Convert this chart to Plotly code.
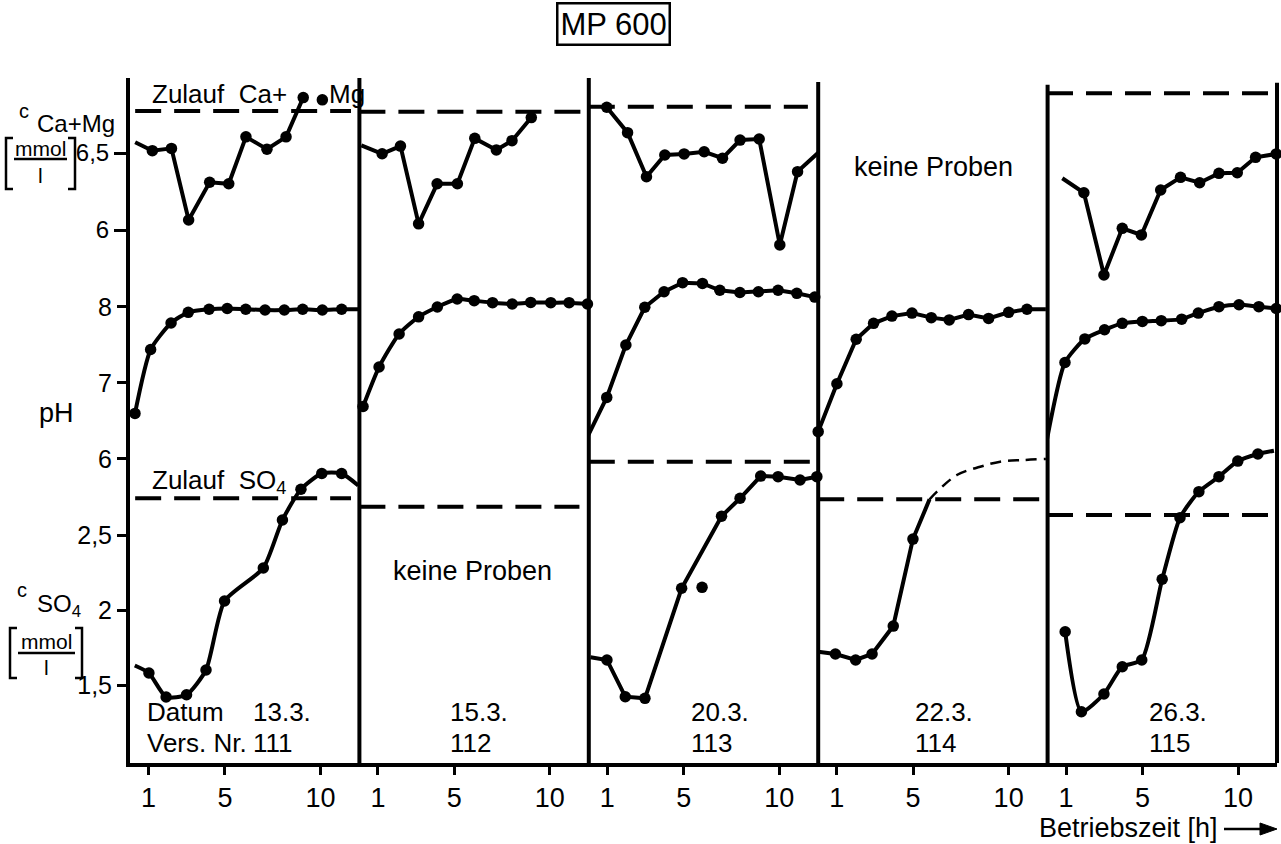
import plotly.graph_objects as go

# ---------------- data ----------------
dates = ["13.3.", "15.3.", "20.3.", "22.3.", "26.3."]
vers_nr = ["111", "112", "113", "114", "115"]
x_ticks = [1, 5, 10]

# Zulauf (feed) concentrations per run
zulauf_ca = [6.773, 6.768, 6.80, None, 6.888]
zulauf_so4 = [2.745, 2.689, 2.989, 2.738, 2.633]

# Run 111 (13.3.)
ca1_t = [0.3, 1.2, 2.2, 3.1, 4.2, 5.2, 6.1, 7.2, 8.2, 9.1]
ca1_v = [6.57, 6.515, 6.53, 6.065, 6.31, 6.30, 6.605, 6.525, 6.605, 6.86]
ca1_extra_t = [10.1]
ca1_extra_v = [6.845]
ph1_t = [0.29, 1.11, 2.18, 3.08, 4.17, 5.12, 6.09, 7.10, 8.11, 9.07, 10.1, 11.11, 11.98]
ph1_v = [6.60, 7.44, 7.79, 7.93, 7.97, 7.98, 7.97, 7.96, 7.96, 7.97, 7.96, 7.97, 7.97]
so1_t = [0.28, 1.02, 1.92, 2.99, 4.01, 4.98, 7.01, 8.01, 8.98, 10.07, 11.11, 11.98]
so1_v = [1.63, 1.58, 1.42, 1.435, 1.60, 2.06, 2.28, 2.60, 2.805, 2.91, 2.91, 2.83]

# Run 112 (15.3.)
ca2_t = [0.13, 1.22, 2.18, 3.13, 4.1, 5.16, 6.07, 7.2, 8.02, 9.03]
ca2_v = [6.55, 6.495, 6.545, 6.04, 6.30, 6.30, 6.595, 6.52, 6.58, 6.73]
ph2_t = [0.22, 1.06, 2.11, 3.13, 4.11, 5.15, 6.04, 7.0, 8.03, 9.0, 10.05, 11.01, 11.97]
ph2_v = [6.69, 7.21, 7.645, 7.87, 8.0, 8.105, 8.083, 8.057, 8.04, 8.06, 8.057, 8.057, 8.04]

# Run 113 (20.3.)
ca3_t = [0.97, 2.06, 3.05, 4.01, 5.02, 6.07, 7.03, 7.95, 8.95, 10.03, 10.96, 12.04]
ca3_v = [6.797, 6.632, 6.346, 6.487, 6.494, 6.508, 6.466, 6.584, 6.591, 5.903, 6.379, 6.502]
ph3_t = [0.01, 0.97, 1.97, 2.96, 3.97, 4.94, 5.98, 6.89, 7.94, 8.91, 9.94, 10.92, 11.86]
ph3_v = [6.316, 6.81, 7.5, 7.996, 8.20, 8.32, 8.31, 8.22, 8.19, 8.20, 8.22, 8.18, 8.13]
so3_t = [0.12, 0.98, 1.94, 2.97, 4.89, 6.98, 7.95, 9.03, 9.94, 11.09, 11.97]
so3_v = [1.685, 1.667, 1.422, 1.411, 2.145, 2.625, 2.745, 2.893, 2.889, 2.867, 2.889]
so3_extra_t = [5.96]
so3_extra_v = [2.151]

# Run 114 (22.3.)
ph4_t = [0.03, 1.01, 2.02, 2.93, 3.89, 4.94, 5.95, 6.89, 7.90, 8.95, 10.0, 10.96, 11.95]
ph4_v = [6.36, 6.99, 7.575, 7.785, 7.88, 7.92, 7.86, 7.83, 7.90, 7.85, 7.93, 7.97, 7.97]
so4_t = [0.03, 0.93, 1.99, 2.85, 3.96, 4.99, 5.86]
so4_v = [1.722, 1.707, 1.667, 1.707, 1.893, 2.473, 2.738]
so4_ext_t = [5.86, 6.25, 7.29, 8.51, 9.56, 10.76, 11.95]
so4_ext_v = [2.738, 2.789, 2.90, 2.955, 2.989, 3.0, 3.007]

# Run 115 (26.3.)
ca5_t = [0.8, 1.93, 2.98, 3.94, 4.94, 5.95, 6.99, 7.99, 9.0, 9.96, 10.92, 12.0]
ca5_v = [6.336, 6.242, 5.708, 6.011, 5.968, 6.26, 6.342, 6.307, 6.368, 6.372, 6.472, 6.494]
ph5_t = [0.0, 0.94, 1.98, 3.01, 3.94, 4.99, 5.98, 7.05, 7.92, 9.0, 10.05, 11.09, 12.0]
ph5_v = [6.26, 7.27, 7.58, 7.70, 7.785, 7.81, 7.82, 7.84, 7.92, 8.004, 8.03, 8.004, 7.98]
so5_t = [0.95, 1.8, 2.98, 3.94, 4.96, 6.03, 6.96, 7.95, 9.0, 9.99, 11.04, 11.88]
so5_v = [1.855, 1.322, 1.44, 1.622, 1.667, 2.205, 2.615, 2.789, 2.889, 2.993, 3.04, 3.062]

# ---------------- layout constants ----------------
W, H = 1281, 844
ML, MR, MT, MB = 130, 4, 78, 81
PW, PH = W - ML - MR, H - MT - MB
XR = [0.03, 12.04]
CA_R = [2.539, 6.987]
PH_R = [2.0, 11.013]
SO_R = [0.98, 5.547]
FONT = "Liberation Sans"
BLK = "black"
FS = 27
LW = 4


def X(px):
    return (px - ML) / PW


def Y(py):
    return (H - MB - py) / PH


def xa(i):
    return "x" if i == 1 else f"x{i}"


YCA, YPH, YSO = "y", "y2", "y3"

fig = go.Figure()


def curve(i, y, t, v, a=0, b=None, shape="linear", lw=LW, dots=True):
    fig.add_trace(go.Scatter(x=t, y=v, xaxis=xa(i), yaxis=y, mode="lines",
                             line=dict(color=BLK, width=lw, shape=shape, smoothing=0.6),
                             cliponaxis=False, hoverinfo="skip", showlegend=False))
    if dots:
        fig.add_trace(go.Scatter(x=t[a:b], y=v[a:b], xaxis=xa(i), yaxis=y, mode="markers",
                                 marker=dict(color=BLK, size=11.5), cliponaxis=False,
                                 hoverinfo="skip", showlegend=False))


def dots(i, y, t, v):
    fig.add_trace(go.Scatter(x=t, y=v, xaxis=xa(i), yaxis=y, mode="markers",
                             marker=dict(color=BLK, size=11.5), cliponaxis=False,
                             hoverinfo="skip", showlegend=False))


def zulauf(i, y, val, t0, t1):
    if val is None:
        return
    fig.add_trace(go.Scatter(x=[t0, t1], y=[val, val], xaxis=xa(i), yaxis=y, mode="lines",
                             line=dict(color=BLK, width=LW, dash="26px,13px"),
                             cliponaxis=False, hoverinfo="skip", showlegend=False))


# feed lines
ca_ext = [(0.3, 11.6), (0.03, 11.65), (0.03, 11.5), None, (0.0, 12.04)]
so_ext = [(0.3, 11.6), (0.03, 11.55), (0.03, 12.3), (0.03, 12.0), (0.0, 11.7)]
for i in range(5):
    if ca_ext[i]:
        zulauf(i + 1, YCA, zulauf_ca[i], *ca_ext[i])
    zulauf(i + 1, YSO, zulauf_so4[i], *so_ext[i])

# run 111
curve(1, YCA, ca1_t, ca1_v, a=1)
dots(1, YCA, ca1_extra_t, ca1_extra_v)
curve(1, YPH, ph1_t, ph1_v, a=0, b=-1, shape="spline")
curve(1, YSO, so1_t, so1_v, a=1, b=-1, shape="spline")
# run 112
curve(2, YCA, ca2_t, ca2_v, a=1)
curve(2, YPH, ph2_t, ph2_v, shape="spline")
# run 113
curve(3, YCA, ca3_t, ca3_v, a=0, b=-1)
curve(3, YPH, ph3_t, ph3_v)
curve(3, YSO, so3_t, so3_v, a=1)
dots(3, YSO, so3_extra_t, so3_extra_v)
# run 114
curve(4, YPH, ph4_t, ph4_v, a=0, b=-1)
curve(4, YSO, so4_t, so4_v, a=1, b=-1)
fig.add_trace(go.Scatter(x=so4_ext_t, y=so4_ext_v, xaxis="x4", yaxis=YSO, mode="lines",
                         line=dict(color=BLK, width=2.5, dash="11px,7px", shape="spline"),
                         cliponaxis=False, hoverinfo="skip", showlegend=False))
# run 115
curve(5, YCA, ca5_t, ca5_v, a=1)
curve(5, YPH, ph5_t, ph5_v, shape="spline")
curve(5, YSO, so5_t, so5_v, a=0, b=-1, shape="spline")

# ---------------- axes ----------------
tickfont = dict(size=FS, family=FONT, color=BLK)
ytickfont = dict(size=25, family=FONT, color=BLK)
lay = {}
for i in range(1, 6):
    key = "xaxis" if i == 1 else f"xaxis{i}"
    lay[key] = dict(domain=[(i - 1) / 5, i / 5], range=XR, anchor="y",
                    tickmode="array", tickvals=x_ticks, ticks="outside", ticklen=8,
                    tickwidth=2.5, tickcolor=BLK, showline=True, linewidth=LW,
                    linecolor=BLK, showgrid=False, zeroline=False, tickfont=tickfont,
                    automargin=False, fixedrange=True)
ycommon = dict(domain=[0, 1], anchor="x", ticks="outside", ticklen=12, tickwidth=2.5,
               tickcolor=BLK, showgrid=False, zeroline=False, tickfont=ytickfont,
               automargin=False, fixedrange=True, tickmode="array")
lay["yaxis"] = dict(ycommon, range=CA_R, tickvals=[6, 6.5], ticktext=["6", "6,5"],
                    showline=True, linewidth=LW, linecolor=BLK,
                    tickfont=dict(size=24, family=FONT, color=BLK))
lay["yaxis2"] = dict(ycommon, range=PH_R, tickvals=[6, 7, 8], ticktext=["6", "7", "8"],
                     showline=False)
lay["yaxis3"] = dict(ycommon, range=SO_R, tickvals=[1.5, 2, 2.5],
                     ticktext=["1,5", "2", "2,5"], showline=False)
fig.update_layout(**lay)

# ---------------- panel dividers ----------------
shapes = []
tops = [1.0, 1.0, 0.994, 0.99]
for k, i in enumerate(range(2, 6)):
    shapes.append(dict(type="line", xref=f"x{i} domain", yref="paper", x0=0, x1=0,
                       y0=0, y1=tops[k], line=dict(color=BLK, width=LW)))
shapes.append(dict(type="line", xref="x5 domain", yref="paper", x0=1, x1=1,
                   y0=0, y1=0.993, line=dict(color=BLK, width=LW)))


def bracket(xl, xr, yt, yb, w=7):
    for xo, d in ((xl, 1), (xr, -1)):
        shapes.append(dict(type="path", xref="paper", yref="paper",
                           path=f"M {X(xo + d * w)},{Y(yt)} L {X(xo)},{Y(yt)} "
                                f"L {X(xo)},{Y(yb)} L {X(xo + d * w)},{Y(yb)}",
                           line=dict(color=BLK, width=2.5)))


def hline(x0, x1, y, w=2.5):
    shapes.append(dict(type="line", xref="paper", yref="paper", x0=X(x0), x1=X(x1),
                       y0=Y(y), y1=Y(y), line=dict(color=BLK, width=w)))


bracket(6, 75, 138, 189)
hline(14, 67, 159)
bracket(10, 82, 628, 678)
hline(18, 75, 653)
# arrow of time axis label
hline(1224, 1266, 829, 2.5)
shapes.append(dict(type="path", xref="paper", yref="paper",
                   path=f"M {X(1260)},{Y(823)} L {X(1277)},{Y(829)} L {X(1260)},{Y(835)} Z",
                   fillcolor=BLK, line=dict(color=BLK, width=1)))
fig.update_layout(shapes=shapes)

# ---------------- texts ----------------
ann = []


def txt(text, x, y, xref="paper", yref="paper", size=FS, xanchor="center", **kw):
    ann.append(dict(text=text, x=x, y=y, xref=xref, yref=yref, showarrow=False,
                    xanchor=xanchor, yanchor="middle",
                    font=dict(size=size, family=FONT, color=BLK), **kw))


txt("MP 600", X(613), Y(24), size=31, bordercolor=BLK, borderwidth=2.5, borderpad=2)
txt("c", X(24), Y(111), size=20)
txt("Ca+Mg", X(35), Y(123), size=24, xanchor="left")
txt("mmol", X(40), Y(148), size=21)
txt("l", X(40), Y(176), size=21)
txt("pH", X(56), Y(413), size=27)
txt("c", X(22), Y(590), size=20)
txt("SO<sub>4</sub>", X(35), Y(605), size=24, xanchor="left")
txt("mmol", X(46), Y(641), size=21)
txt("l", X(46), Y(667), size=21)

txt("Zulauf  Ca+", 1.1, 6.883, "x", "y", size=26, xanchor="left")
txt("Mg", 10.35, 6.883, "x", "y", size=26, xanchor="left")
txt("Zulauf  SO<sub>4</sub>", 1.1, 2.86, "x", "y3", size=26, xanchor="left")
txt("keine Proben", 5.95, 2.26, "x2", "y3", size=27)
txt("keine Proben", 6.05, 6.41, "x4", "y", size=27)
txt("Datum", 0.82, 1.32, "x", "y3", size=26, xanchor="left")
txt("Vers. Nr.", 0.82, 1.113, "x", "y3", size=26, xanchor="left")
date_x = [6.36, 4.69, 5.27, 5.0, 5.21]
for i in range(5):
    txt(dates[i], date_x[i], 1.32, xa(i + 1), "y3", size=26, xanchor="left")
    txt(vers_nr[i], date_x[i], 1.113, xa(i + 1), "y3", size=26, xanchor="left")
txt("Betriebszeit [h]", X(1220), Y(828), size=27, xanchor="right")
fig.update_layout(annotations=ann)

fig.update_layout(width=W, height=H, margin=dict(l=ML, r=MR, t=MT, b=MB, autoexpand=False),
                  paper_bgcolor="white", plot_bgcolor="rgba(0,0,0,0)", showlegend=False,
                  font=dict(family=FONT, color=BLK))
fig.write_html("out.html")
